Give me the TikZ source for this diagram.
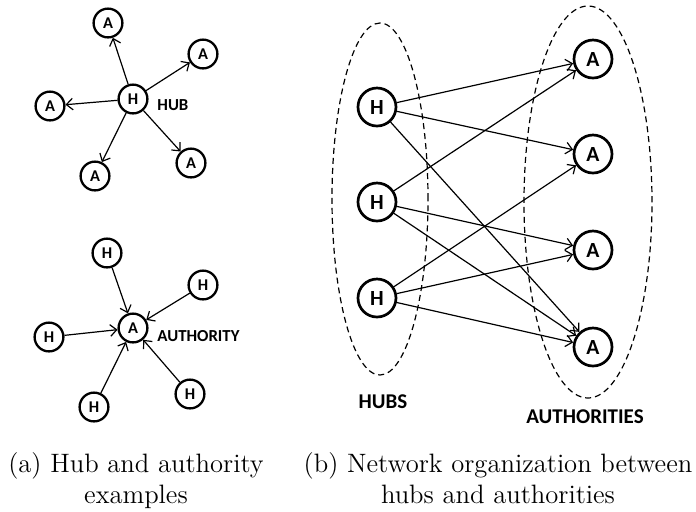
\documentclass[tikz,border=0pt]{standalone}
\usepackage{fontspec}
\setsansfont{Carlito}
\usetikzlibrary{shapes.geometric,arrows.meta}

\begin{document}
\begin{tikzpicture}[x=0.5pt, y=-0.5pt,
  every node/.style={font=\sffamily\bfseries},
  smallnode/.style={circle, draw, line width=1.15pt, minimum size=14.4pt, inner sep=0pt, font=\sffamily\bfseries\fontsize{8.2}{9}\selectfont},
  bignode/.style={circle, draw, line width=1.35pt, minimum size=19pt, inner sep=0pt, font=\sffamily\bfseries\fontsize{10.8}{12}\selectfont},
  arr/.style={-{Straight Barb[length=3.2pt,width=5.8pt]}, line width=0.6pt},
  group/.style={ellipse, draw, dash pattern=on 3pt off 2pt, line width=0.6pt, inner sep=0pt},
  tag/.style={inner sep=0pt, font=\sffamily\bfseries\fontsize{8.4}{10}\selectfont},
  bigtag/.style={inner sep=0pt, font=\sffamily\bfseries\fontsize{10.5}{12}\selectfont},
  caption/.style={align=center, inner sep=0pt, anchor=north, font=\rmfamily\fontsize{13.3}{15.5}\selectfont},
]
\useasboundingbox (0,0) rectangle (696,511);

% (a) hub example
\node[smallnode] (hub) at (133,99) {H};
\node[smallnode] (out1) at (108,23) {A};
\node[smallnode] (out2) at (203,54) {A};
\node[smallnode] (out3) at (50,106) {A};
\node[smallnode] (out4) at (95,176) {A};
\node[smallnode] (out5) at (191,163) {A};
\node[tag, anchor=west] (hublabel) at (157,105) {HUB};

\draw[arr] (hub) -- (out1);
\draw[arr] (hub) -- (out2);
\draw[arr] (hub) -- (out3);
\draw[arr] (hub) -- (out4);
\draw[arr] (hub) -- (out5);

% (a) authority example
\node[smallnode] (auth) at (133,328) {A};
\node[smallnode] (in1) at (107,253) {H};
\node[smallnode] (in2) at (203,285) {H};
\node[smallnode] (in3) at (49,337) {H};
\node[smallnode] (in4) at (94,407) {H};
\node[smallnode] (in5) at (190,394) {H};
\node[tag, anchor=west] (authlabel) at (157,336) {AUTHORITY};

\draw[arr] (in1) -- (auth);
\draw[arr] (in2) -- (auth);
\draw[arr] (in3) -- (auth);
\draw[arr] (in4) -- (auth);
\draw[arr] (in5) -- (auth);

% (b) hubs and authorities
\node[group, minimum width=48pt, minimum height=176pt] (hubset) at (380,199) {};
\node[group, minimum width=64pt, minimum height=196pt] (authset) at (588,202) {};

\node[bignode] (h1) at (377,107) {H};
\node[bignode] (h2) at (377,202) {H};
\node[bignode] (h3) at (377,298) {H};
\node[bignode] (a1) at (593,59) {A};
\node[bignode] (a2) at (593,154) {A};
\node[bignode] (a3) at (593,250) {A};
\node[bignode] (a4) at (593,347) {A};

\draw[arr] (h1) -- (a1);
\draw[arr] (h1) -- (a2);
\draw[arr] (h1) -- (a4);
\draw[arr] (h2) -- (a1);
\draw[arr] (h2) -- (a3);
\draw[arr] (h2) -- (a4);
\draw[arr] (h3) -- (a2);
\draw[arr] (h3) -- (a3);
\draw[arr] (h3) -- (a4);

\node[bigtag] (hubstag) at (383,402) {HUBS};
\node[bigtag] (authtag) at (585,417) {AUTHORITIES};

% captions
\node[caption] (capa) at (136,452) {(a) Hub and authority\\examples};
\node[caption] (capb) at (498,452) {(b) Network organization between\\hubs and authorities};

\end{tikzpicture}
\end{document}
